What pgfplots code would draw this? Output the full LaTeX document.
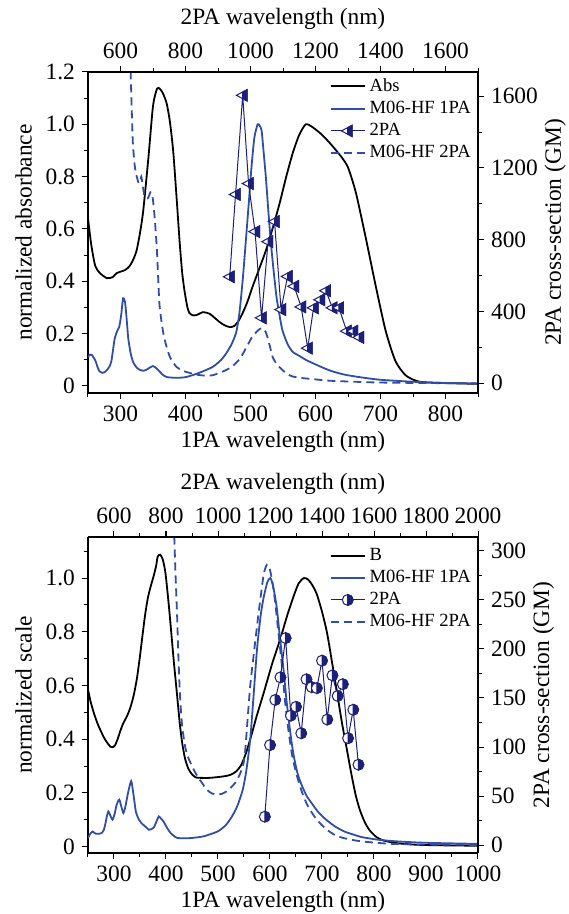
\documentclass[border=0pt]{standalone}
\usepackage{fontspec}
\setmainfont{Liberation Serif}
\usepackage{pgfplots}
\pgfplotsset{compat=1.18}

\definecolor{thblue}{RGB}{48,78,168}
\definecolor{navy}{RGB}{28,32,120}

% half-filled marks (right half dark)
\pgfdeclareplotmark{halftri}{%
  \pgfpathmoveto{\pgfqpoint{-1.05\pgfplotmarksize}{0pt}}%
  \pgfpathlineto{\pgfqpoint{0.75\pgfplotmarksize}{0.95\pgfplotmarksize}}%
  \pgfpathlineto{\pgfqpoint{0.75\pgfplotmarksize}{-0.95\pgfplotmarksize}}%
  \pgfpathclose
  \pgfsetfillcolor{white}\pgfusepathqfillstroke
  \pgfpathmoveto{\pgfqpoint{0pt}{0.554\pgfplotmarksize}}%
  \pgfpathlineto{\pgfqpoint{0.75\pgfplotmarksize}{0.95\pgfplotmarksize}}%
  \pgfpathlineto{\pgfqpoint{0.75\pgfplotmarksize}{-0.95\pgfplotmarksize}}%
  \pgfpathlineto{\pgfqpoint{0pt}{-0.554\pgfplotmarksize}}%
  \pgfpathclose
  \pgfsetfillcolor{navy}\pgfusepathqfillstroke}
\pgfdeclareplotmark{halfcirc}{%
  \pgfpathcircle{\pgfpointorigin}{\pgfplotmarksize}%
  \pgfsetfillcolor{white}\pgfusepathqfillstroke
  \pgfpathmoveto{\pgfqpoint{0pt}{\pgfplotmarksize}}%
  \pgfpatharc{90}{-90}{\pgfplotmarksize}%
  \pgfpathclose
  \pgfsetfillcolor{navy}\pgfusepathqfillstroke}

\pgfplotsset{
  panel/.style={
    scale only axis, width=195pt,
    font=\fontsize{11.7}{14}\selectfont,
    tick align=outside, major tick length=3pt, minor tick length=2pt,
    every tick/.style={black, line width=0.5pt},
    axis line style={line width=0.6pt},
    /pgf/number format/assume math mode=true,
    /pgf/number format/1000 sep={},
    clip=true,
  },
  lower/.style={xlabel shift=-2pt},
  upper/.style={ylabel shift=-3.5pt},
  curve/.style={line width=0.9pt},
  dsh/.style={thblue, line width=0.9pt, dash pattern=on 4pt off 2.5pt},
  leg/.style={legend style={draw=none, fill=none, font=\fontsize{9.3}{10}\selectfont,
      anchor=north east, row sep=-0.6pt, inner sep=1pt}, legend cell align=left},
}

\pgfplotstableread{
x y
250 0.641
255 0.54
261 0.46
268 0.432
279 0.412
288 0.416
294 0.431
307 0.443
314 0.458
320 0.485
325 0.52
330 0.585
335 0.67
343 0.874
350 1.07
356 1.135
360 1.137
365 1.12
371 1.08
376 1.01
381 0.9
386 0.73
391 0.55
395 0.43
399 0.355
403 0.30
406 0.279
411 0.27
417 0.271
427 0.282
437 0.276
445 0.26
452 0.245
460 0.232
468 0.225
475 0.229
482 0.25
488 0.279
495 0.32
503 0.378
513 0.445
524 0.52
535 0.61
545 0.70
555 0.80
565 0.89
575 0.96
585 1.0
595 0.99
610 0.96
625 0.92
640 0.875
650 0.835
662 0.74
677 0.57
693 0.378
708 0.21
723 0.095
739 0.04
760 0.016
800 0.011
850 0.008
}\absA

\pgfplotstableread{
x y
250 0.111
253 0.12
256 0.118
261 0.099
265 0.07
268 0.055
272 0.05
276 0.053
282 0.07
286 0.095
291 0.18
295 0.21
298 0.225
301 0.27
304 0.335
307 0.32
310 0.24
312 0.18
316 0.12
320 0.088
325 0.07
330 0.061
335 0.058
340 0.062
345 0.07
350 0.076
354 0.07
358 0.061
364 0.045
371 0.034
386 0.031
401 0.034
421 0.05
442 0.073
455 0.1
463 0.126
471 0.16
478 0.205
483 0.28
488 0.405
493 0.56
498 0.72
502 0.85
506 0.95
511 1.0
514 0.995
517 0.977
520 0.9
524 0.786
528 0.65
532 0.53
536 0.43
540 0.34
544 0.28
549 0.214
557 0.16
565 0.13
575 0.115
585 0.1
595 0.088
621 0.06
647 0.042
698 0.024
775 0.013
850 0.009
}\onepaA

\pgfplotstableread{
x y
312 1.5
315 1.25
317 1.08
319 0.93
322 0.84
325 0.8
328 0.775
330 0.78
332 0.8
334 0.77
337 0.725
342 0.717
346 0.74
348 0.737
350 0.71
353 0.63
356 0.52
358 0.41
360 0.31
364 0.23
368 0.176
376 0.111
386 0.073
396 0.058
406 0.05
420 0.042
432 0.039
442 0.041
452 0.05
462 0.06
472 0.075
484 0.105
494 0.149
502 0.185
509 0.206
515 0.219
519 0.221
523 0.208
526 0.187
530 0.15
534 0.111
540 0.085
549 0.061
557 0.045
565 0.036
580 0.03
600 0.025
621 0.02
660 0.016
698 0.013
775 0.011
850 0.01
}\twopaA

\pgfplotstableread{
x y
936 593
954 1052
976 1605
994 1113
1014 845
1034 364
1054 789
1074 901
1094 410
1114 595
1134 540
1156 425
1176 195
1194 420
1214 465
1232 515
1252 420
1272 420
1296 290
1316 290
1334 255
}\expA

\pgfplotstableread{
x y
250 0.585
255 0.54
261 0.499
268 0.46
274 0.433
283 0.398
293 0.372
298 0.37
302 0.377
307 0.40
312 0.43
318 0.46
325 0.486
331 0.515
337.5 0.56
344 0.625
350 0.71
355 0.79
360 0.865
365 0.925
370 0.965
376 1.006
381 1.045
384 1.08
389 1.087
394 1.068
399 1.018
405 0.907
410 0.80
415 0.69
421 0.57
427 0.449
432 0.375
437 0.325
443 0.29
450 0.269
457 0.258
464 0.256
485 0.256
513 0.262
525 0.268
535 0.28
545 0.305
555 0.355
565 0.42
575 0.49
588 0.573
604 0.68
620 0.775
633 0.86
645 0.93
655 0.98
665 1.0
673 0.995
681 0.975
690 0.94
700 0.875
709.6 0.797
719 0.69
729 0.573
738 0.465
748 0.36
757 0.265
765 0.19
773 0.135
782 0.092
791 0.062
805 0.035
819 0.022
847 0.012
880 0.007
916 0.005
1000 0.003
}\absB

\pgfplotstableread{
x y
250 0.031
255 0.05
259 0.056
263 0.05
266 0.0475
272 0.048
276 0.05
280 0.06
283 0.081
286 0.11
289 0.131
292 0.12
297 0.10
301 0.12
305 0.155
310 0.175
314 0.15
318 0.125
322 0.15
327 0.2
333 0.244
337 0.2
342 0.131
348 0.10
354 0.085
360 0.075
367 0.0625
372 0.065
377 0.0725
382 0.095
386 0.1125
390 0.105
395 0.094
402 0.07
409 0.05
415 0.04
422 0.032
443 0.031
471 0.0375
499 0.056
515 0.08
527 0.1125
538 0.155
548 0.215
555 0.29
562 0.40
568 0.55
575 0.734
582 0.86
588 0.93
595 0.985
600.7 1.0
606 0.97
613 0.89
619 0.78
626 0.66
632 0.54
639 0.425
645 0.345
652 0.28
659 0.238
670 0.19
680 0.162
693 0.128
708 0.1
725 0.075
743 0.056
760 0.045
777 0.035
810 0.025
847 0.019
900 0.014
1000 0.01
}\onepaB

\pgfplotstableread{
x y
413 1.3
416 1.15
418 1.03
421 0.88
424 0.70
427 0.56
431 0.45
437 0.37
443 0.33
450 0.3
455 0.28
461 0.26
470 0.235
478 0.213
488 0.198
499 0.194
508 0.197
516 0.205
525 0.22
534 0.24
541 0.265
548 0.3
552 0.35
556 0.45
562 0.6
569 0.72
575 0.82
582 0.93
588 1.015
594 1.05
600 1.03
605 0.98
610 0.91
616 0.80
623 0.672
629 0.54
636 0.425
643 0.335
652 0.262
662 0.2
673 0.15
690 0.1
708 0.065
725 0.043
743 0.031
777 0.019
847 0.009
1000 0.006
}\twopaB

\pgfplotstableread{
x y
1180 29
1200 102
1220 148
1240 171
1260 211
1280 132
1300 141
1320 114
1340 169
1360 161
1380 160
1400 188
1420 128
1440 173
1460 152
1480 164
1500 109
1520 138
1540 82
}\expB

\begin{document}
\begin{tikzpicture}
\path[use as bounding box] (-44pt,196.5pt) rectangle (240pt,-260.5pt);

% ---------- panel (a) ----------
\begin{axis}[panel, lower, height=160.5pt,
  xmin=250, xmax=850, ymin=-0.027, ymax=1.2,
  axis x line*=bottom, axis y line*=left,
  xtick={300,400,...,800}, minor xtick={250,350,...,850},
  ytick={0,0.2,0.4,0.6,0.8,1.0,1.2}, yticklabels={0,0.2,0.4,0.6,0.8,1.0,1.2},
  minor ytick={0.1,0.3,0.5,0.7,0.9,1.1},
  xlabel={1PA wavelength (nm)}, ylabel={normalized absorbance}]
\addplot[curve, black, smooth, tension=0.4] table {\absA};
\addplot[curve, thblue, smooth, tension=0.4] table {\onepaA};
\addplot[dsh, smooth, tension=0.4] table {\twopaA};
\end{axis}
\begin{axis}[panel, upper, height=160.5pt, leg, legend style={at={(0.998,1.0)}},
  xmin=500, xmax=1700, ymin=-55, ymax=1735,
  axis x line*=top, axis y line*=right,
  xtick={600,800,...,1600}, minor xtick={700,900,...,1700},
  ytick={0,400,...,1600}, minor ytick={200,600,...,1400},
  xlabel={2PA wavelength (nm)}, ylabel={2PA cross-section (GM)}]
\addlegendimage{curve, black}
\addlegendentry{Abs}
\addlegendimage{curve, thblue}
\addlegendentry{M06-HF 1PA}
\addplot[navy, line width=0.5pt, mark=halftri, mark size=3pt] table {\expA};
\addlegendentry{2PA}
\addlegendimage{dsh}
\addlegendentry{M06-HF 2PA}
\node[font=\fontsize{11.7}{14}\selectfont] at (rel axis cs:-0.156,1.069) {(\textit{a})};
\end{axis}

% ---------- panel (b) ----------
\begin{axis}[panel, lower, height=158pt, at={(0pt,-230pt)},
  xmin=250, xmax=1000, ymin=-0.024, ymax=1.153,
  axis x line*=bottom, axis y line*=left,
  xtick={300,400,...,1000}, minor xtick={250,350,...,950},
  ytick={0,0.2,0.4,0.6,0.8,1.0}, yticklabels={0,0.2,0.4,0.6,0.8,1.0},
  minor ytick={0.1,0.3,0.5,0.7,0.9,1.1},
  xlabel={1PA wavelength (nm)}, ylabel={normalized scale}]
\addplot[curve, black, smooth, tension=0.4] table {\absB};
\addplot[curve, thblue, smooth, tension=0.4] table {\onepaB};
\addplot[dsh, smooth, tension=0.4] table {\twopaB};
\end{axis}
\begin{axis}[panel, upper, height=158pt, at={(0pt,-230pt)}, leg, legend style={at={(0.998,0.985)}},
  xmin=500, xmax=2000, ymin=-8, ymax=314,
  axis x line*=top, axis y line*=right,
  xtick={600,800,...,2000}, minor xtick={700,900,...,1900},
  ytick={0,50,...,300}, minor ytick={25,75,...,275},
  xlabel={2PA wavelength (nm)}, ylabel={2PA cross-section (GM)}]
\addlegendimage{curve, black}
\addlegendentry{B}
\addlegendimage{curve, thblue}
\addlegendentry{M06-HF 1PA}
\addplot[navy, line width=0.5pt, mark=halfcirc, mark size=2.7pt] table {\expB};
\addlegendentry{2PA}
\addlegendimage{dsh}
\addlegendentry{M06-HF 2PA}
\node[font=\fontsize{11.7}{14}\selectfont] at (rel axis cs:-0.156,1.07) {(\textit{b})};
\end{axis}
\end{tikzpicture}
\end{document}
